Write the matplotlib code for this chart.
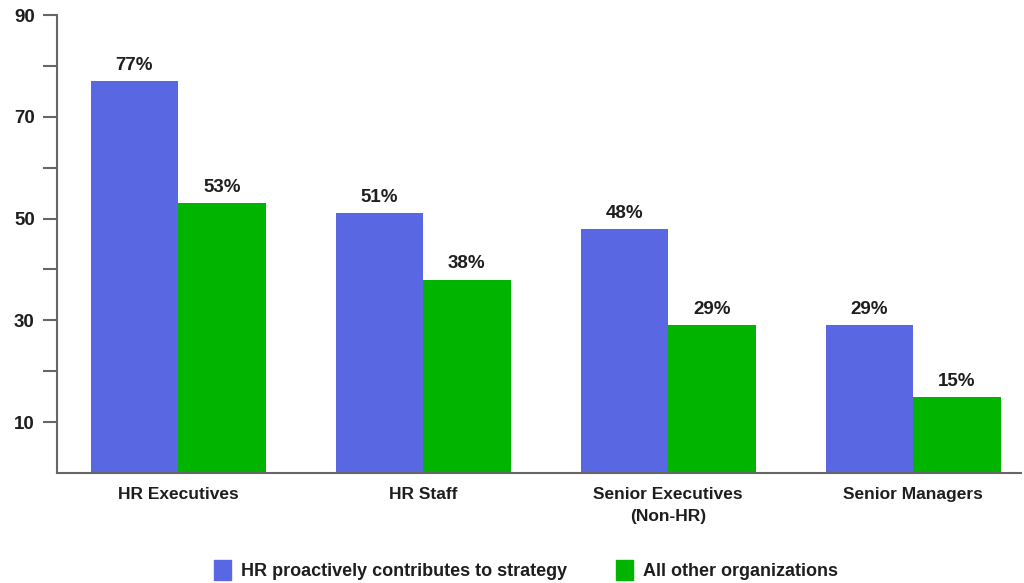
import matplotlib.pyplot as plt
import numpy as np
from matplotlib.patches import Patch

plt.rcParams['font.family'] = ['Liberation Sans', 'DejaVu Sans']
plt.rcParams['font.weight'] = 'bold'

categories = ['HR Executives', 'HR Staff', 'Senior Executives\n(Non-HR)', 'Senior Managers']
hr_strategy = [77, 51, 48, 29]
all_other = [53, 38, 29, 15]
series_names = ['HR proactively contributes to strategy', 'All other organizations']

blue = '#5967E3'
green = '#00B400'
axis_gray = '#666666'
text_col = '#1e1e1e'

fig = plt.figure(figsize=(10.24, 5.83), dpi=100)
ax = fig.add_axes([57 / 1024, 1 - 473 / 583, (1021 - 57) / 1024, (473 - 15) / 583])

x = np.arange(len(categories))
w = 0.357
b1 = ax.bar(x - w / 2, hr_strategy, w, color=blue)
b2 = ax.bar(x + w / 2, all_other, w, color=green)

# percentage labels above each bar
for bars, vals in ((b1, hr_strategy), (b2, all_other)):
    for bar, v in zip(bars, vals):
        ax.text(bar.get_x() + bar.get_width() / 2, v + 1.4, '{}%'.format(v),
                ha='center', va='bottom', fontsize=13.5, fontweight='bold', color=text_col)

ax.set_xlim(-0.494, 3.44)
ax.set_ylim(0, 90)
ax.set_yticks([10, 30, 50, 70, 90])
ax.set_yticks([20, 40, 60, 80], minor=True)
ax.tick_params(axis='y', which='both', length=10, width=1.5, color=axis_gray,
               labelsize=13.5, pad=6, labelcolor=text_col)
ax.set_xticks(x)
ax.set_xticklabels(categories, fontsize=12.5, color=text_col, linespacing=1.6)
ax.tick_params(axis='x', length=0, pad=10)

for side in ('top', 'right'):
    ax.spines[side].set_visible(False)
for side in ('left', 'bottom'):
    ax.spines[side].set_color(axis_gray)
    ax.spines[side].set_linewidth(1.5)

handles = [Patch(color=blue), Patch(color=green)]
fig.legend(handles, series_names, loc='center', bbox_to_anchor=(0.514, 0.022), ncol=2,
           frameon=False, fontsize=13, handlelength=0.9, handleheight=1.3,
           columnspacing=2.7, handletextpad=0.6, labelcolor=text_col)

fig.savefig('out.png', dpi=100)
